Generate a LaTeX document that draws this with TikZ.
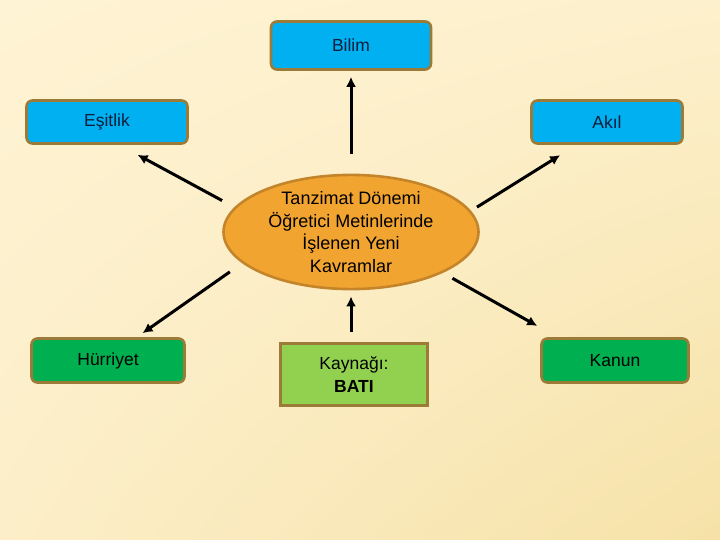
\documentclass[tikz,border=0pt]{standalone}
\usepackage{fontspec}
\setmainfont{Liberation Sans}
\usepackage{xcolor}
\usetikzlibrary{arrows.meta,positioning,shapes.geometric,shadings}
\definecolor{skyblue}{HTML}{00B0F0}
\definecolor{leafgreen}{HTML}{00B050}
\definecolor{limegreen}{HTML}{92D050}
\definecolor{amber}{HTML}{F2A431}
\definecolor{bronze}{HTML}{9C7A38}
\definecolor{rust}{HTML}{C4852A}
\definecolor{navy}{HTML}{0F1E3C}
\definecolor{creamA}{HTML}{FEF3D4}
\definecolor{creamB}{HTML}{FDF0CC}
\definecolor{creamC}{HTML}{FCEEC8}
\definecolor{creamD}{HTML}{F6E2A8}

\begin{document}
\begin{tikzpicture}[x=1pt,y=-1pt,
  conbox/.style={rectangle,rounded corners=6pt,draw=bronze,line width=2.6pt,inner sep=0pt,align=center,font=\fontsize{17.5}{22.5}\selectfont},
  bluebox/.style={conbox,fill=skyblue,text=navy},
  greenbox/.style={conbox,fill=leafgreen},
  srcbox/.style={conbox,rounded corners=0pt,fill=limegreen},
  core/.style={ellipse,draw=rust,line width=2.6pt,fill=amber,inner sep=0pt,align=center,font=\fontsize{18}{22.5}\selectfont},
  arr/.style={-{Latex[length=10pt,width=10pt]},line width=3pt}]
\useasboundingbox (0,0) rectangle (720,540);
\shade[upper left=creamA,upper right=creamB,lower left=creamC,lower right=creamD] (0,0) rectangle (720,540);
% concept map
\node[core,minimum width=255pt,minimum height=95pt] (core) at (351,232) {Tanzimat Dönemi\\Öğretici Metinlerinde\\İşlenen Yeni\\Kavramlar};
\node[bluebox,minimum width=160pt,minimum height=48pt] (bilim) at (351,45.5) {Bilim};
\node[bluebox,minimum width=161pt,minimum height=43pt] (esitlik) at (107,122) {Eşitlik};
\node[bluebox,minimum width=151pt,minimum height=43pt] (akil) at (607,122) {Akıl};
\node[greenbox,minimum width=153pt,minimum height=44pt] (hurriyet) at (108,360.5) {Hürriyet};
\node[greenbox,minimum width=147pt,minimum height=44pt] (kanun) at (615,360.5) {Kanun};
\node[srcbox,minimum width=147pt,minimum height=62pt] (kaynak) at (354,374.5) {Kaynağı:\\\textbf{BATI}};
\foreach \s/\t/\a/\b in {core.north/bilim.south/20/6, core.168/esitlik.-62/14/21, core.10.5/akil.-143/7/19.5,
  core.196/hurriyet.39/15/7, core.-24/kanun.158/11/23, kaynak.north -| core.south/core.south/10/6}
  \draw[arr,shorten <=\a pt,shorten >=\b pt] (\s) -- (\t);
\end{tikzpicture}
\end{document}
